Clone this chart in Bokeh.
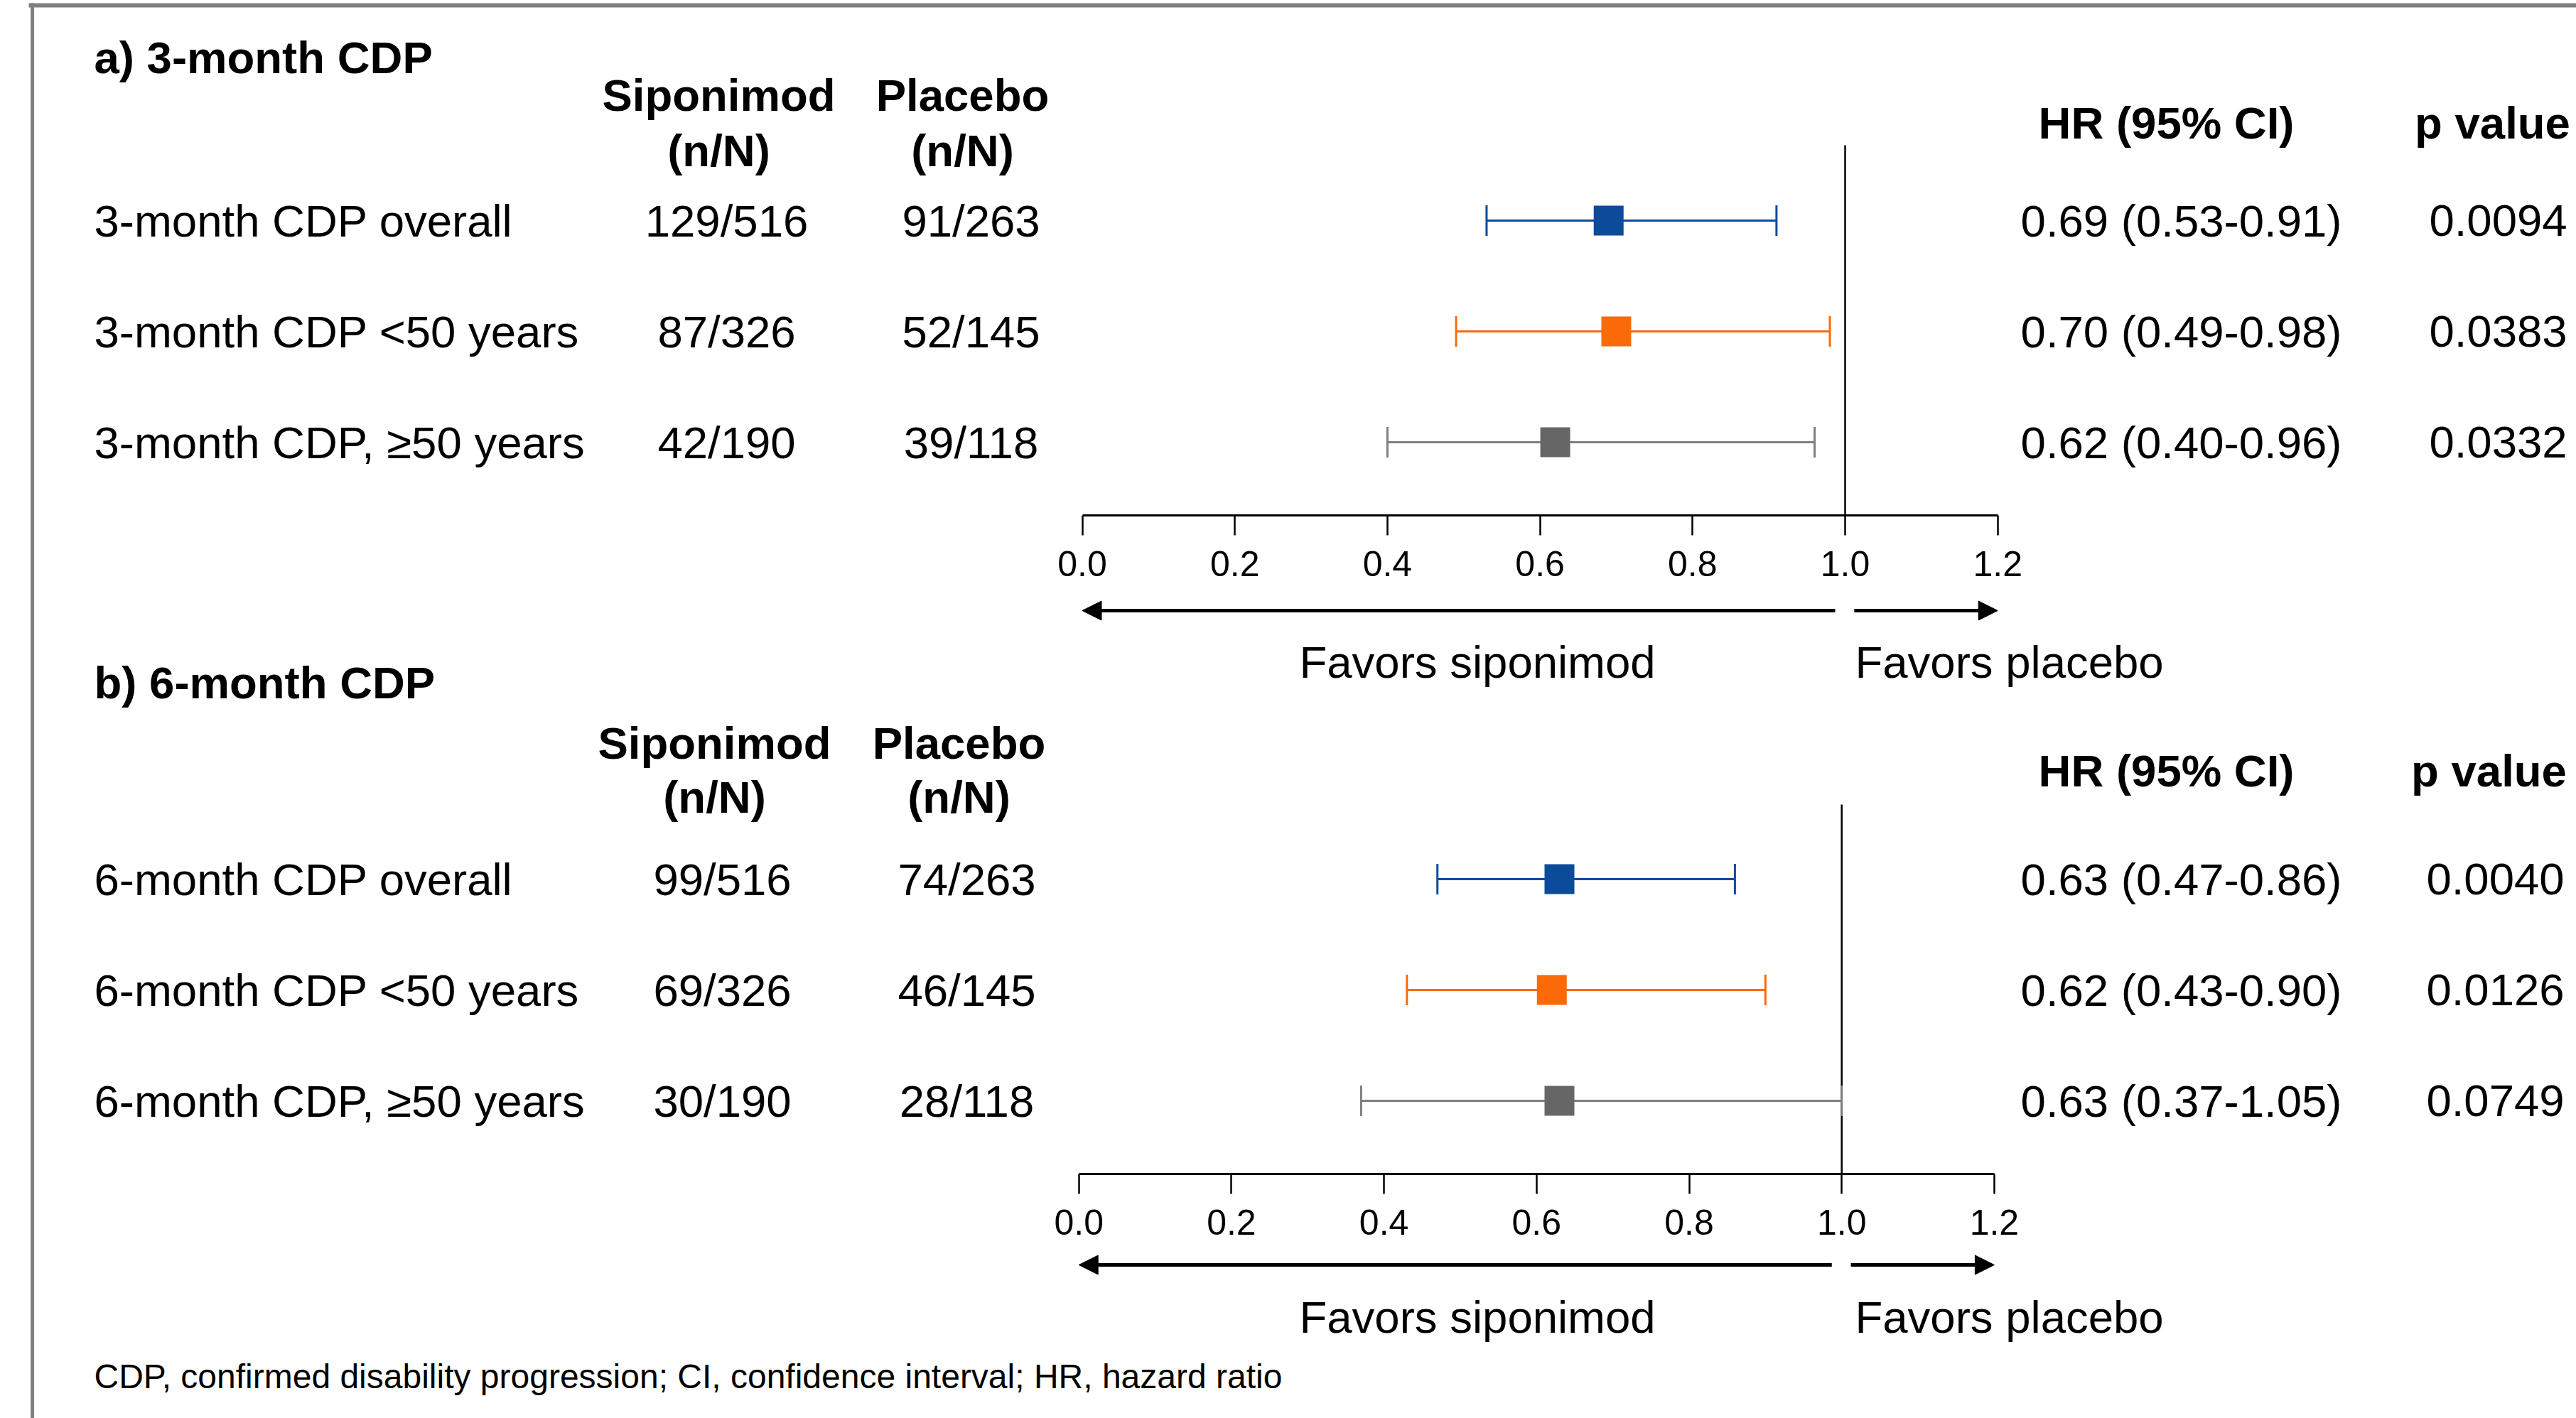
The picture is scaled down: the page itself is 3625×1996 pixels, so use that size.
import math
from bokeh.plotting import figure
from bokeh.models import (Range1d, LinearAxis, FixedTicker, PrintfTickFormatter,
                          Arrow, NormalHead, ColumnDataSource)
from bokeh.core.properties import value
from bokeh.embed import file_html
from bokeh.resources import INLINE

# ---------------- data ----------------
panel_titles = ["a) 3-month CDP", "b) 6-month CDP"]

labels_a = ["3-month CDP overall", "3-month CDP <50 years", "3-month CDP, \u226550 years"]
sip_a = ["129/516", "87/326", "42/190"]
plc_a = ["91/263", "52/145", "39/118"]
hr_a = [0.69, 0.70, 0.62]
lo_a = [0.53, 0.49, 0.40]
hi_a = [0.91, 0.98, 0.96]
hr_text_a = ["0.69 (0.53-0.91)", "0.70 (0.49-0.98)", "0.62 (0.40-0.96)"]
p_a = ["0.0094", "0.0383", "0.0332"]

labels_b = ["6-month CDP overall", "6-month CDP <50 years", "6-month CDP, \u226550 years"]
sip_b = ["99/516", "69/326", "30/190"]
plc_b = ["74/263", "46/145", "28/118"]
hr_b = [0.63, 0.62, 0.63]
lo_b = [0.47, 0.43, 0.37]
hi_b = [0.86, 0.90, 1.00]          # upper whisker as drawn in the picture
hr_text_b = ["0.63 (0.47-0.86)", "0.62 (0.43-0.90)", "0.63 (0.37-1.05)"]
p_b = ["0.0040", "0.0126", "0.0749"]

row_colors = ["#0C4A9A", "#FA6A0A", "#666666"]
line_colors = ["#0C4A9A", "#FA6A0A", "#7F7F7F"]
hr_ticks = [0.0, 0.2, 0.4, 0.6, 0.8, 1.0, 1.2]

header_sip = ["Siponimod", "(n/N)"]
header_plc = ["Placebo", "(n/N)"]
header_hr = "HR (95% CI)"
header_p = "p value"
favors = ["Favors siponimod", "Favors placebo"]
footnote = "CDP, confirmed disability progression; CI, confidence interval; HR, hazard ratio"

# ---------------- layout ----------------
W, H = 3625, 1996
X0, Y0 = 0, 0
PX_PER_HR = 1073.5
ZERO_A, ZERO_B = 1522.5, 1517.7
FONT = value("Liberation Sans")
FS = 63.5


def hr_range(zero):
    return Range1d((X0 - zero) / PX_PER_HR, (X0 + W - zero) / PX_PER_HR)


p = figure(width=W, height=H, x_range=hr_range(ZERO_A), y_range=Range1d(Y0 + H, Y0),
           x_axis_type=None, y_axis_type=None, output_backend="svg",
           toolbar_location=None, min_border=0, outline_line_color=None,
           background_fill_color="white", border_fill_color="white")
p.extra_x_ranges = {"b": hr_range(ZERO_B), "px": Range1d(X0, X0 + W)}


def txt(xs, ys, texts, size=FS, bold=False, align="left"):
    src = ColumnDataSource(dict(x=xs, y=ys, text=texts))
    p.text("x", "y", "text", source=src, x_range_name="px", text_font=FONT,
           text_font_size=f"{size}px", text_font_style="bold" if bold else "normal",
           text_align=align, text_baseline="alphabetic", text_color="black")


# frame (top & left)
p.segment(x0=[40, 45], y0=[7, 4], x1=[X0 + W, 45], y1=[7, Y0 + H], x_range_name="px",
          line_color="#808080", line_width=[6, 5])

panels = [
    dict(rng="default", title=panel_titles[0], labels=labels_a, sip=sip_a, plc=plc_a,
         hr=hr_a, lo=lo_a, hi=hi_a, hrt=hr_text_a, pv=p_a,
         rows=[310, 466, 622], title_y=80, h1=133, h2=211, hrh=172,
         sip_hx=1011, plc_hx=1354, sip_x=1022, plc_x=1366,
         hr_hx=3048, hr_x=3069, p_hx=3507, p_x=3515,
         ref_top=204, axis_y=725, arrow_y=859, fav_y=931),
    dict(rng="b", title=panel_titles[1], labels=labels_b, sip=sip_b, plc=plc_b,
         hr=hr_b, lo=lo_b, hi=hi_b, hrt=hr_text_b, pv=p_b,
         rows=[1237, 1393, 1549], title_y=960, h1=1045, h2=1121, hrh=1084,
         sip_hx=1005, plc_hx=1349, sip_x=1016, plc_x=1360,
         hr_hx=3048, hr_x=3069, p_hx=3502, p_x=3511,
         ref_top=1132, axis_y=1652, arrow_y=1780, fav_y=1853),
]

for d in panels:
    rows = d["rows"]
    # texts (y = visual middle of capitals)
    txt([132], [d["title_y"]], [d["title"]], bold=True)
    txt([d["sip_hx"]] * 2, [d["h1"], d["h2"]], header_sip, bold=True, align="center")
    txt([d["plc_hx"]] * 2, [d["h1"], d["h2"]], header_plc, bold=True, align="center")
    txt([d["hr_hx"]], [d["hrh"]], [header_hr], bold=True, align="center")
    txt([d["p_hx"]], [d["hrh"]], [header_p], bold=True, align="center")
    txt([132] * 3, rows, d["labels"])
    txt([d["sip_x"]] * 3, rows, d["sip"], align="center")
    txt([d["plc_x"]] * 3, rows, d["plc"], align="center")
    txt([d["hr_x"]] * 3, rows, d["hrt"], align="center")
    txt([d["p_x"]] * 3, rows, d["pv"], align="center")
    txt([1828, 2610], [d["fav_y"]] * 2, favors)

    rng = d["rng"]
    # reference line at HR = 1
    p.segment(x0=[1.0], y0=[d["ref_top"]], x1=[1.0], y1=[d["axis_y"]],
              x_range_name=rng, line_color="black", line_width=2.5)
    # CI lines
    p.segment(x0=d["lo"], y0=rows, x1=d["hi"], y1=rows, x_range_name=rng,
              line_color=line_colors, line_width=3)
    # caps
    p.scatter(x=d["lo"] + d["hi"], y=rows + rows, marker="dash", size=43,
              angle=math.pi / 2, x_range_name=rng,
              line_color=line_colors + line_colors, line_width=3)
    # point estimates
    p.scatter(x=d["hr"], y=rows, marker="square", size=42, x_range_name=rng,
              fill_color=row_colors, line_color=None)

    # axis
    ax = LinearAxis(x_range_name=rng, fixed_location=d["axis_y"], bounds=(0, 1.2),
                    ticker=FixedTicker(ticks=hr_ticks),
                    formatter=PrintfTickFormatter(format="%.1f"))
    ax.axis_line_width = 3
    ax.axis_line_color = "black"
    ax.major_tick_line_width = 2.5
    ax.major_tick_line_color = "black"
    ax.major_tick_in = 0
    ax.major_tick_out = 28
    ax.minor_tick_line_color = None
    ax.major_label_text_font = "Liberation Sans"
    ax.major_label_text_font_size = "50px"
    ax.major_label_text_color = "black"
    ax.major_label_standoff = 22
    p.add_layout(ax, "below")

    # arrows
    for xs, xe in [(0.987, 0.0), (1.012, 1.2)]:
        p.add_layout(Arrow(x_start=xs, y_start=d["arrow_y"], x_end=xe, y_end=d["arrow_y"],
                           x_range_name=rng, line_width=5, line_color="black",
                           end=NormalHead(size=27, fill_color="black", line_color="black",
                                          line_width=1)))

txt([132], [1937], [footnote], size=48)

open("out.html", "w").write(file_html(p, INLINE))
